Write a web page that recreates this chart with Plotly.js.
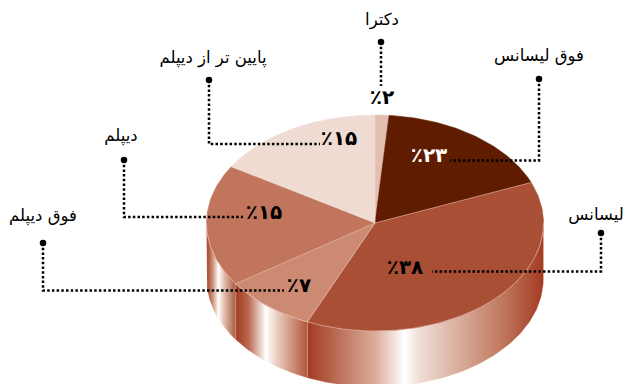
<!DOCTYPE html>
<html>
<head>
<meta charset="utf-8">
<script src="https://cdn.plot.ly/plotly-3.0.1.min.js"></script>
<style>html,body{margin:0;padding:0;background:#fff}</style>
</head>
<body>
<div id="chart" style="width:624px;height:384px"></div>
<script>
// Data
const categories = ["دکترا", "فوق لیسانس", "لیسانس", "فوق دیپلم", "دیپلم", "پایین تر از دیپلم"];
const percentValues = [2, 23, 38, 7, 15, 15];
// The reference's slices are not drawn in proportion to their printed labels;
// these are the shares as they appear in the drawn picture.
const drawnShares = [1.33, 17.55, 37.7, 8.9, 18.25, 16.27];
const sliceColors = ["#e2bfb1", "#5f1c00", "#a94f36", "#cc8a73", "#c0755c", "#efdbd2"];
const percentColors = ["#000000", "#ffffff", "#000000", "#000000", "#000000", "#000000"];

// Layout of the drawing (axes run in page pixels)
const cx = 375, cy = 223, rx = 168.5, ry = 108, depth = 56;
const dark = "#a33b22";
const wallGradients = {
  2: [[0, dark], [0.10, "#b5624a"], [0.29, "#dcae9b"], [0.41, "#ffffff"], [0.48, "#efdcd4"], [0.82, "#c07a60"], [1, dark]],
  3: [[0, dark], [0.18, "#b9694f"], [0.42, "#ffffff"], [0.6, "#e8c8ba"], [1, "#b0563c"]],
  4: [[0, dark], [0.22, "#cf9680"], [0.41, "#ffffff"], [0.6, "#e2bfb0"], [1, "#a85a42"]]
};
const leaderPaths = [
  [[381, 42], [381, 86]],
  [[539, 79], [539, 160.5], [450, 160.5]],
  [[601, 233], [601, 271.5], [432, 271.5]],
  [[43, 243], [43, 290.5], [284, 290.5]],
  [[124, 160], [124, 217], [243, 217]],
  [[209, 80], [209, 144], [320, 144]]
];
const namePositions = [[382, 21], [539, 57], [596, 216], [43, 217], [121, 137], [213, 59]];
const percentPositions = [[382, 99], [429, 157], [405, 269], [299, 287], [264, 214], [339, 140]];

const toPersian = n => String(n).replace(/\d/g, d => "۰۱۲۳۴۵۶۷۸۹"[+d]);
const px = t => cx + rx * Math.sin(t * Math.PI / 180);
const py = (t, off) => cy + (off || 0) - ry * Math.cos(t * Math.PI / 180);
const arc = (a, b, off) => {
  const n = Math.max(2, Math.ceil(Math.abs(b - a))), xs = [], ys = [];
  for (let i = 0; i <= n; i++) { const t = a + (b - a) * i / n; xs.push(px(t)); ys.push(py(t, off)); }
  return [xs, ys];
};

const total = drawnShares.reduce((s, v) => s + v, 0);
let acc = 0;
const bounds = drawnShares.map(v => { const a = acc; acc += v; return [a / total * 360, acc / total * 360]; });

const traces = [];
const edge = "rgba(255,235,225,0.55)";

// Wall segments
bounds.forEach((b, i) => {
  if (!wallGradients[i]) return;
  const a0 = Math.max(b[0], 90), a1 = Math.min(b[1], 270);
  const top = arc(a0, a1, 0), bot = arc(a1, a0, depth);
  const xs = top[0].concat(bot[0]), ys = top[1].concat(bot[1]);
  xs.push(xs[0]); ys.push(ys[0]);
  traces.push({
    type: "scatter", mode: "lines", x: xs, y: ys, fill: "toself",
    line: {color: "rgba(255,225,215,0.35)", width: 0.6}, hoverinfo: "skip", showlegend: false,
    fillgradient: {type: "horizontal", colorscale: wallGradients[i], start: Math.min(...xs), stop: Math.max(...xs)}
  });
});

// Top slices
bounds.forEach((b, i) => {
  const a = arc(b[0], b[1], 0);
  traces.push({
    type: "scatter", mode: "lines", x: [cx].concat(a[0], [cx]), y: [cy].concat(a[1], [cy]),
    fill: "toself", fillcolor: sliceColors[i], line: {color: sliceColors[i], width: 0.5},
    hoverinfo: "skip", showlegend: false
  });
});

// Thin pale seams between slices and along the front rim
[1, 2, 3, 4].forEach(k => {
  const t = bounds[k][0];
  traces.push({type: "scatter", mode: "lines", x: [cx, px(t)], y: [cy, py(t)],
    line: {color: k === 1 ? "rgba(255,235,225,0)" : edge, width: 0.7}, hoverinfo: "skip", showlegend: false});
});
const rim = arc(90, 270, 0);
traces.push({type: "scatter", mode: "lines", x: rim[0], y: rim[1],
  line: {color: edge, width: 0.7}, hoverinfo: "skip", showlegend: false});

// Leader lines
leaderPaths.forEach(p => {
  traces.push({type: "scatter", mode: "lines", x: p.map(q => q[0]), y: p.map(q => q[1]),
    line: {color: "#000", width: 2.5, dash: "2.5px,2.2px"}, hoverinfo: "skip", showlegend: false});
});
traces.push({type: "scatter", mode: "markers", x: leaderPaths.map(p => p[0][0]), y: leaderPaths.map(p => p[0][1]),
  marker: {color: "#000", size: 6.5}, hoverinfo: "skip", showlegend: false});

// Texts
const fontFam = "'DejaVu Sans', 'Noto Sans', sans-serif";
traces.push({type: "scatter", mode: "text", x: namePositions.map(p => p[0]), y: namePositions.map(p => p[1]),
  text: categories, textposition: "middle center", textfont: {family: fontFam, size: 16.5, color: "#000"},
  cliponaxis: false, hoverinfo: "skip", showlegend: false});
traces.push({type: "scatter", mode: "text", x: percentPositions.map(p => p[0]), y: percentPositions.map(p => p[1]),
  text: percentValues.map(v => "٪" + toPersian(v)), textposition: "middle center",
  textfont: {family: "'DejaVu Sans', sans-serif", size: 20, weight: 700, color: percentColors},
  cliponaxis: false, hoverinfo: "skip", showlegend: false});

Plotly.newPlot("chart", traces, {
  width: 624, height: 384, margin: {l: 0, r: 0, t: 0, b: 0},
  paper_bgcolor: "#fff", plot_bgcolor: "#fff", showlegend: false,
  xaxis: {range: [0, 624], visible: false, fixedrange: true},
  yaxis: {range: [384, 0], visible: false, fixedrange: true}
}, {displayModeBar: false, staticPlot: true});
</script>
</body>
</html>
